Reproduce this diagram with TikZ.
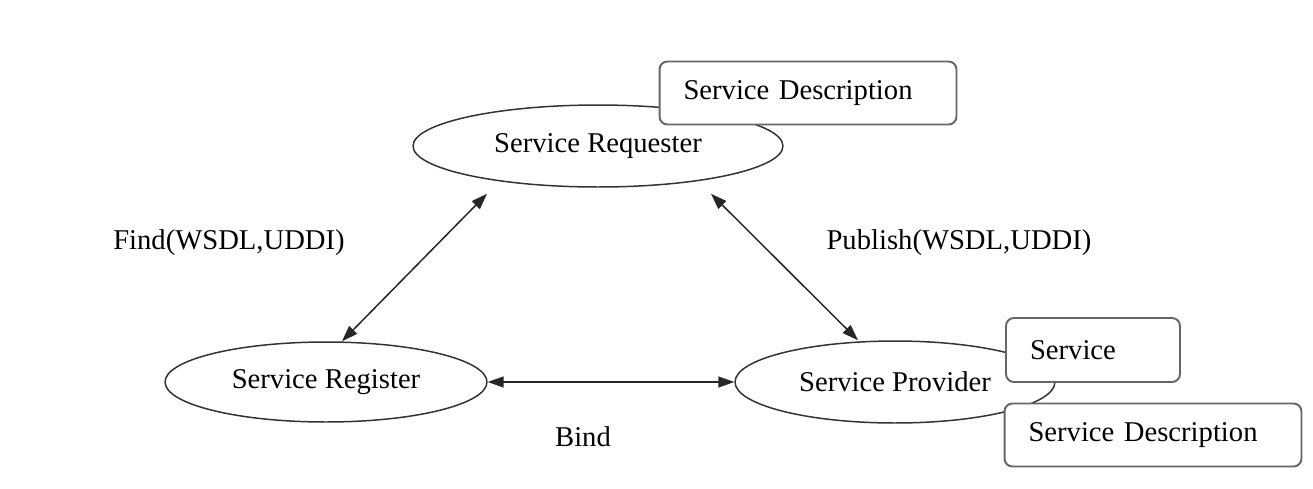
\documentclass[tikz,border=0pt]{standalone}
\usepackage{fontspec}
\setmainfont{Liberation Serif}
\usetikzlibrary{arrows.meta}
\usetikzlibrary{shapes.geometric}

\begin{document}
\begin{tikzpicture}[x=0.02cm,y=-0.02cm,
	role/.style = {draw=black!80, ellipse, line width=0.85pt, fill=white, minimum width=7.4cm, minimum height=1.64cm},
	doc/.style = {draw=black!60, rounded corners=4.5pt, line width=1.1pt, fill=white, inner xsep=0.48cm, align=left, minimum height=1.26cm},
	link/.style = {draw=black!85, line width=0.85pt, {Triangle[length=0.32cm,width=0.22cm]}-{Triangle[length=0.32cm,width=0.22cm]}}]
					\useasboundingbox (0,0) rectangle (1313,488);
					\begin{scope}[every node/.style={font=\fontsize{16.3}{19}\selectfont}]
						\node[role] (req) at (598,146) {Service Requester};
						\node[role,minimum width=6.44cm,minimum height=1.6cm] (reg) at (326,382) {Service Register};
						\node[role,minimum width=6.4cm] (prov) at (895,382) {Service Provider};
						\node[doc,text width=4.98cm] (reqdesc) at (808,93) {Service Description};
						\node[doc,text width=2.52cm,minimum height=1.28cm] (srv) at (1093,350) {Service};
						\node[doc,text width=4.98cm] (provdesc) at (1153,435) {Service Description};
						\node (find) at (229,243) {Find(WSDL,UDDI)};
						\node (publish) at (959,243) {Publish(WSDL,UDDI)};
						\node (bind) at (583,437) {Bind};
					\end{scope}
					\draw [link] ([xshift=0.32cm]reg.north) -- ([xshift=-2.22cm,yshift=-0.12cm]req.south);
					\draw [link] ([xshift=2.26cm,yshift=-0.12cm]req.south) -- ([xshift=-0.74cm]prov.north);
					\draw [link] (reg.east) -- (prov.west);
				\end{tikzpicture}
\end{document}
